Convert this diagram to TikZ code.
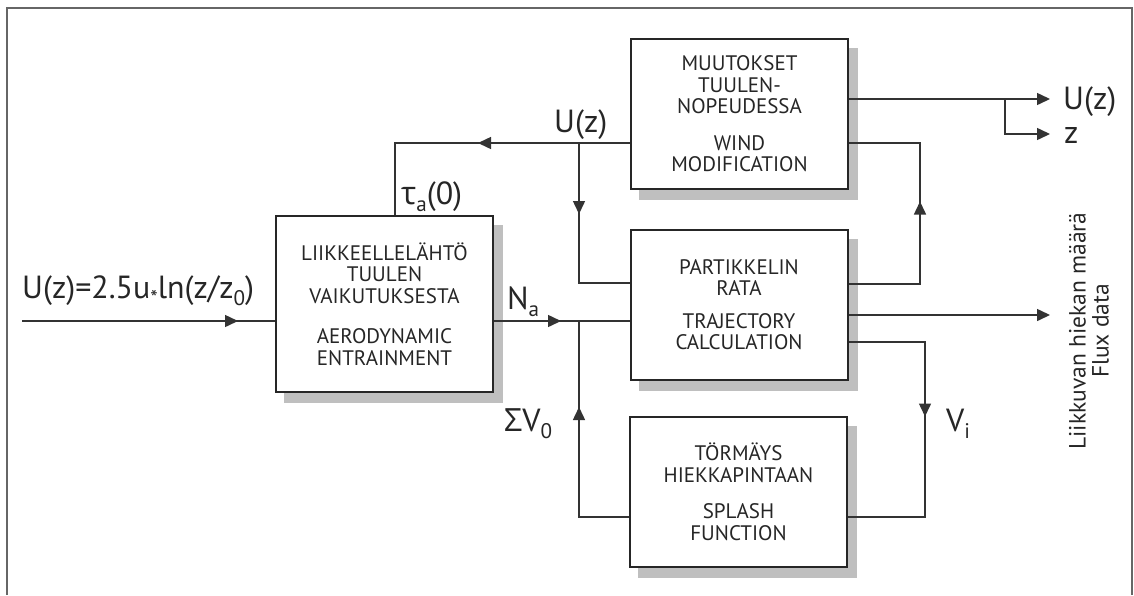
\documentclass[tikz,border=0pt]{standalone}
\usepackage{fontspec}
\setmainfont{PT Sans}
\newfontfamily\gk{Open Sans}
\usetikzlibrary{arrows.meta,decorations.markings,backgrounds}
\newcommand{\dn}[1]{\raisebox{-0.45ex}{\scalebox{0.66}{#1}}}
\begin{document}
\begin{tikzpicture}[x=1pt,y=-1pt,
  box/.style={draw=black!85, line width=2pt, fill=white, minimum width=217pt,
    minimum height=150pt, align=center, inner sep=0pt,
    font=\fontsize{21}{21.5}\selectfont, text=black!85},
  wire/.style={line width=1.5pt, draw=black!80},
  tip/.style={-{Triangle[length=13pt,width=12pt]}},
  arrowat/.style={postaction={decorate}, decoration={markings,
    mark=at position #1 with {\arrow{Triangle[length=13pt,width=12pt]}}}},
  big/.style={font=\fontsize{32}{34}\selectfont, text=black!85, inner sep=0pt},
  shadowbox/.style={fill=gray!50}]
\useasboundingbox (0,0) rectangle (1134,595);
% frame
\draw[line width=1.5pt, draw=black!60] (7,595) -- (7,8) -- (1132,8) -- (1132,595);
% boxes
\node[box, minimum height=176pt] (aero) at (384.5,304)
  {LIIKKEELLELÄHTÖ\\TUULEN\\VAIKUTUKSESTA\\[19pt]AERODYNAMIC\\ENTRAINMENT};
\node[box] (wind) at (739.5,114)
  {MUUTOKSET\\TUULEN-\\NOPEUDESSA\\[15pt]WIND\\MODIFICATION};
\node[box] (traj) at (739,304.5)
  {PARTIKKELIN\\RATA\\[11pt]TRAJECTORY\\CALCULATION};
\node[box] (splash) at (738.5,492)
  {TÖRMÄYS\\HIEKKAPINTAAN\\[15pt]SPLASH\\FUNCTION};
\begin{scope}[on background layer]
  \foreach \b in {aero,wind,traj,splash}{
    \fill[shadowbox] ([shift={(9,10)}]\b.north west) rectangle ([shift={(9,10)}]\b.south east);
  }
\end{scope}
% coordinates
\coordinate (in) at (22,321);
\coordinate (jn) at (579,321);
\coordinate (fb) at (395,143);
\coordinate (jt) at (579,143);
\coordinate (jd) at (579,283);
\coordinate (rt) at (920,284);
\coordinate (rw) at (920,143);
\coordinate (vi) at (925,342);
\coordinate (vs) at (925,517);
\coordinate (sv) at (579,517);
\coordinate (uo) at (1050,99);
\coordinate (br) at (1005,99);
\coordinate (zo) at (1050,134);
\coordinate (fo) at (1050,315);
% connectors
\draw[wire, arrowat=216pt] (in) -- (aero.west |- in);
\draw[wire, arrowat=67pt] (aero.east |- jn) -- (traj.west |- jn);
\draw[wire, arrowat=152pt] (wind.west |- fb) -- (fb) -- (fb |- aero.north);
\draw[wire, arrowat=71pt] (jt) -- (jd) -- (traj.west |- jd);
\draw[wire, arrowat=154pt] (traj.east |- rt) -- (rt) -- (rw) -- (wind.east |- rw);
\draw[wire, tip] (traj.east |- fo) -- (fo);
\draw[wire, arrowat=151pt] (traj.east |- vi) -- (vi) -- (vs) -- (splash.east |- vs);
\draw[wire, arrowat=160pt] (splash.west |- sv) -- (sv) -- (jn);
\draw[wire, tip] (wind.east |- uo) -- (uo);
\draw[wire, tip] (br) -- (br |- zo) -- (zo);
% labels
\node[big, anchor=base west] (inlab) at (22,298) {U(z)=2.5u\dn{*}ln(z/z\dn{0})};
\node[big, anchor=base west] (tau) at (401,204) {{\gk τ}\dn{a}(0)};
\node[big, anchor=base west] (na) at (507,309) {N\dn{a}};
\node[big, anchor=base west] (uz) at (554,132) {U(z)};
\node[big, anchor=base west] (sig) at (504,431) {{\gk Σ}V\dn{0}};
\node[big, anchor=base west] (vil) at (946,431) {V\dn{i}};
\node[big, anchor=base west] (uzr) at (1063,109) {U(z)};
\node[big, anchor=base west] (zr) at (1064,143) {z};
\node[rotate=90, align=center, inner sep=0pt, text=black!85,
  font=\fontsize{23.5}{23}\selectfont] (flux) at (1089,331)
  {Liikkuvan hiekan määrä\\Flux data};
\end{tikzpicture}
\end{document}
